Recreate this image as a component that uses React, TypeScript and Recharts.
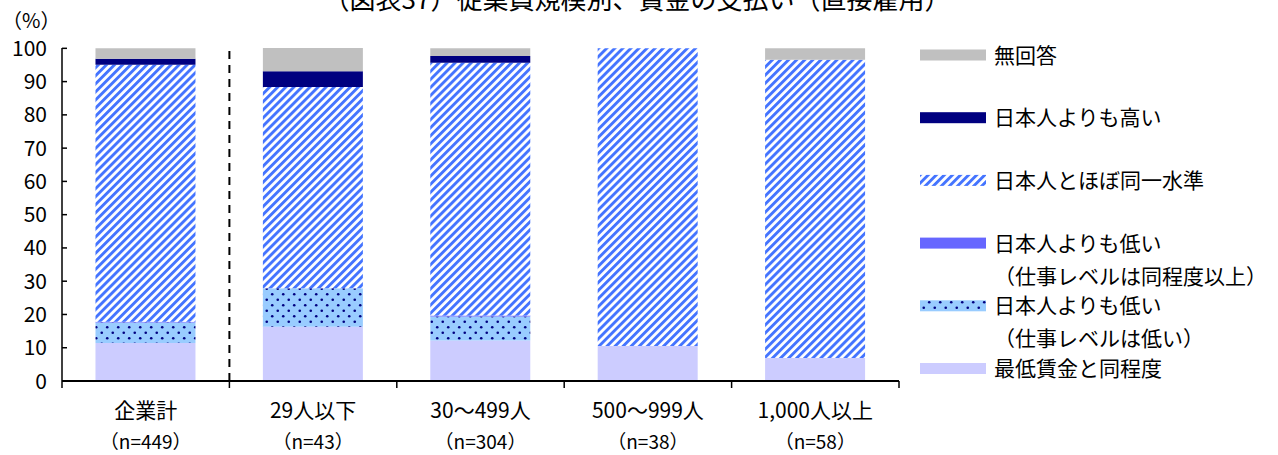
import React from "react";
import { BarChart, Bar, XAxis, YAxis, Legend } from "recharts";

// categories and sample sizes
const categories = ["企業計", "29人以下", "30～499人", "500～999人", "1,000人以上"];
const sampleLabels = ["（n=449）", "（n=43）", "（n=304）", "（n=38）", "（n=58）"];

// shares in % (bottom to top of each stack)
const minWage = [11.4, 16.3, 12.2, 10.5, 6.9];
const lowerLowJob = [6.2, 11.6, 7.2, 0, 0];
const lowerSameJob = [0.2, 0, 0.3, 0, 0];
const sameLevel = [77.3, 60.5, 76.0, 89.5, 89.7];
const higher = [1.8, 4.7, 2.0, 0, 0];
const noAnswer = [3.1, 7.0, 2.3, 0, 3.4];

const yTicks = [0, 10, 20, 30, 40, 50, 60, 70, 80, 90, 100];

// legend reads top to bottom, same as the stack
const legendOrder = ["noAnswer", "higher", "sameLevel", "lowerSameJob", "lowerLowJob", "minWage"];

const data = categories.map((c, i) => ({
  name: c,
  minWage: minWage[i],
  lowerLowJob: lowerLowJob[i],
  lowerSameJob: lowerSameJob[i],
  sameLevel: sameLevel[i],
  higher: higher[i],
  noAnswer: noAnswer[i],
}));

const FONT = '"Noto Sans CJK JP", "Noto Sans", sans-serif';
const W = 1278;
const H = 455;
const MARGIN = { top: 48, right: 379, bottom: 0, left: 2 };
const Y_AXIS_W = 60;
const X_AXIS_H = 74;
const BAND = (W - MARGIN.left - Y_AXIS_W - MARGIN.right) / categories.length;
const PLOT_H = H - MARGIN.top - X_AXIS_H;

function YTick(props: any) {
  const { x, y, payload } = props;
  return (
    <g>
      <text x={x} y={y} dy={7.5} textAnchor="end" fontSize={21} fontFamily={FONT} fill="#000">
        {payload.value}
      </text>
      <line x1={x + 15} x2={x + 20} y1={y} y2={y} stroke="#000" strokeWidth={1.5} />
    </g>
  );
}

function XTick(props: any) {
  const { x, y, index } = props;
  const left = x - BAND / 2;
  const right = x + BAND / 2;
  return (
    <g>
      <line x1={left} x2={left} y1={y} y2={y + 7} stroke="#000" strokeWidth={1.5} />
      {index === categories.length - 1 && (
        <line x1={right} x2={right} y1={y} y2={y + 7} stroke="#000" strokeWidth={1.5} />
      )}
      {/* dashed divider between the total and the size groups */}
      {index === 1 && (
        <line x1={left} x2={left} y1={y} y2={y - PLOT_H} stroke="#000" strokeWidth={2} strokeDasharray="8 6" />
      )}
      <text x={x} y={y + 37} textAnchor="middle" fontSize={21} fontFamily={FONT} fill="#000">
        {categories[index]}
      </text>
      <text x={x} y={y + 68} textAnchor="middle" fontSize={19} fontFamily={FONT} fill="#000">
        {sampleLabels[index]}
      </text>
    </g>
  );
}

function LegendBox(props: any) {
  const payload = props.payload || [];
  const items = legendOrder
    .map((k) => payload.find((p: any) => p.dataKey === k))
    .filter(Boolean);
  return (
    <svg width={368} height={390} style={{ overflow: "visible" }}>
      {items.map((it: any, i: number) => {
        const cy = 25 + i * 62.7;
        const lines = String(it.value).split("\n");
        return (
          <g key={i}>
            <rect x={10} y={cy - 5.5} width={66} height={11} fill={it.color} />
            {lines.map((t, j) => (
              <text key={j} x={84} y={cy + 7.5 + j * 33} fontSize={21} fontFamily={FONT} fill="#000">
                {t}
              </text>
            ))}
          </g>
        );
      })}
    </svg>
  );
}

export default function App() {
  return (
    <div style={{ position: "absolute", left: 0, top: 0, width: W, height: H, background: "#fff" }}>
      <BarChart width={W} height={H} data={data} margin={MARGIN} barCategoryGap="20%">
        <defs>
          <pattern id="hatch" width="5.7" height="5.7" patternUnits="userSpaceOnUse" patternTransform="rotate(45)">
            <rect width="5.7" height="5.7" fill="#ffffff" />
            <rect width="2.9" height="5.7" fill="#4474ff" />
          </pattern>
          <pattern id="dots" width="11" height="11" patternUnits="userSpaceOnUse">
            <rect width="11" height="11" fill="#99ccff" />
            <circle cx="2.75" cy="2.75" r="1.3" fill="#000080" />
            <circle cx="8.25" cy="8.25" r="1.3" fill="#000080" />
          </pattern>
        </defs>
        <XAxis
          dataKey="name"
          height={X_AXIS_H}
          tickSize={0}
          tickMargin={0}
          tickLine={false}
          axisLine={{ stroke: "#000", strokeWidth: 2 }}
          tick={<XTick />}
          interval={0}
        />
        <YAxis
          width={Y_AXIS_W}
          domain={[0, 100]}
          ticks={yTicks}
          tickSize={0}
          tickMargin={15}
          tickLine={false}
          axisLine={{ stroke: "#000", strokeWidth: 1.5 }}
          tick={<YTick />}
          interval={0}
        />
        <Bar dataKey="minWage" name="最低賃金と同程度" stackId="a" fill="#ccccff" isAnimationActive={false} />
        <Bar dataKey="lowerLowJob" name={"日本人よりも低い\n（仕事レベルは低い）"} stackId="a" fill="url(#dots)" isAnimationActive={false} />
        <Bar dataKey="lowerSameJob" name={"日本人よりも低い\n（仕事レベルは同程度以上）"} stackId="a" fill="#6666ff" isAnimationActive={false} />
        <Bar dataKey="sameLevel" name="日本人とほぼ同一水準" stackId="a" fill="url(#hatch)" isAnimationActive={false} />
        <Bar dataKey="higher" name="日本人よりも高い" stackId="a" fill="#000080" isAnimationActive={false} />
        <Bar dataKey="noAnswer" name="無回答" stackId="a" fill="#c0c0c0" isAnimationActive={false} />
        <Legend
          layout="vertical"
          align="center"
          verticalAlign="middle"
          wrapperStyle={{ left: 910, top: 30, width: 368, height: 390 }}
          content={<LegendBox />}
        />
      </BarChart>
      <svg width={W} height={H} style={{ position: "absolute", left: 0, top: 0, pointerEvents: "none" }}>
        <text x={637} y={9} textAnchor="middle" fontSize={26} fontFamily={FONT} fill="#000">
          （図表37）従業員規模別、賃金の支払い（直接雇用）
        </text>
        <text x={2} y={28} fontSize={20} fontFamily={FONT} fill="#000">
          （%）
        </text>
      </svg>
    </div>
  );
}
